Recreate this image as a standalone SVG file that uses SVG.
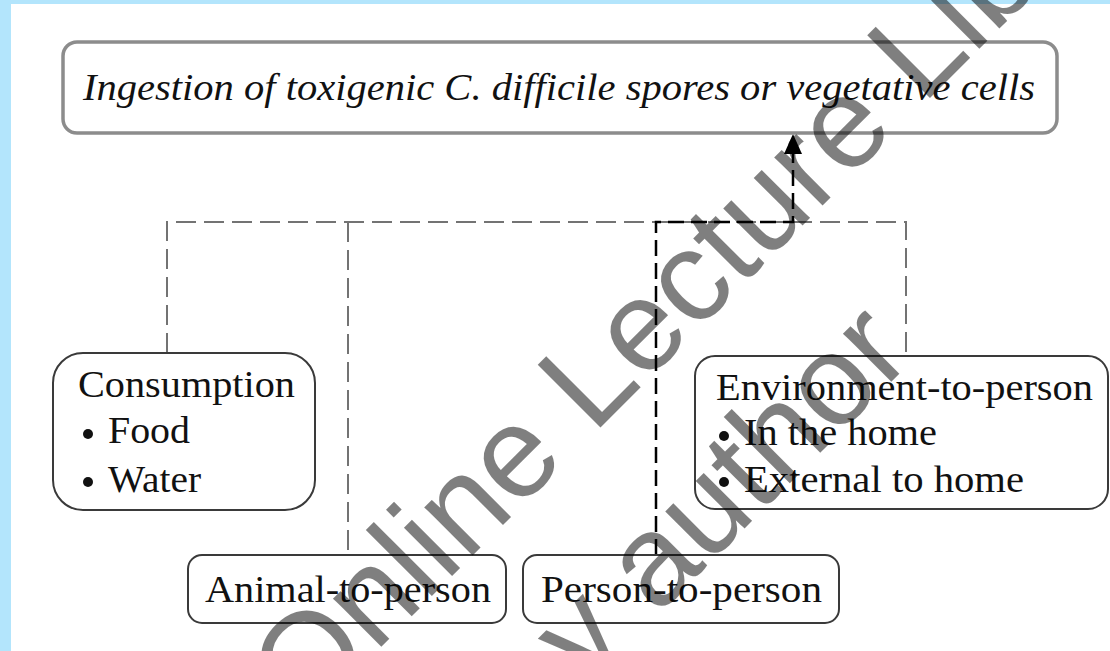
<svg xmlns="http://www.w3.org/2000/svg" width="1110" height="651" viewBox="0 0 1110 651">
  <style>
    .box { fill: #ffffff; stroke: #3a3a3a; stroke-width: 2; }
    .topbox { fill: #ffffff; stroke: #8c8c8c; stroke-width: 3.5; }
    .lbl { font-family: "Liberation Serif", "Times New Roman", serif; font-size: 38px; fill: #111; }
    .ital { font-family: "Liberation Serif", "Times New Roman", serif; font-style: italic; font-size: 37px; fill: #111; }
    .bullet { fill: #111; }
    .gdash { fill: none; stroke: #737373; stroke-width: 2; stroke-dasharray: 20 8; }
    .bdash { fill: none; stroke: #000; stroke-width: 2.5; stroke-dasharray: 16 7; }
    .wm { font-family: "Liberation Sans", Arial, sans-serif; font-size: 129px; fill: #000; fill-opacity: 0.5; }
  </style>
  <defs>
    <marker id="arrow" viewBox="0 0 10 10" refX="10" refY="5" markerWidth="8" markerHeight="8" markerUnits="userSpaceOnUse" orient="auto">
      <path d="M0,0 L10,5 L0,10 z" fill="#000"/>
    </marker>
  </defs>

  <rect x="0" y="0" width="1110" height="651" fill="#ffffff"/>
  <rect x="0" y="0" width="1110" height="4" fill="#b3e5fc"/>
  <rect x="0" y="0" width="11" height="651" fill="#b3e5fc"/>

  <g id="connectors">
    <path class="gdash" d="M167,353 V222 H906 V356"/>
    <path class="gdash" d="M348,222 V555"/>
    <path class="bdash" d="M656,555 V222 H793 V152"/>
    <path d="M793,134 L802,154 L784,154 z" fill="#000"/>
  </g>

  <g id="node-ingestion">
    <rect class="topbox" x="63" y="42" width="994" height="91" rx="14"/>
    <text class="ital" x="83" y="100" textLength="952" lengthAdjust="spacingAndGlyphs">Ingestion of toxigenic C. difficile spores or vegetative cells</text>
  </g>

  <g id="node-consumption">
    <rect class="box" x="53" y="353" width="262" height="157" rx="30"/>
    <text class="lbl" x="78" y="397" textLength="217" lengthAdjust="spacingAndGlyphs">Consumption</text>
    <circle class="bullet" cx="88" cy="434" r="5"/>
    <text class="lbl" x="108" y="443" textLength="82" lengthAdjust="spacingAndGlyphs">Food</text>
    <circle class="bullet" cx="88" cy="482" r="5"/>
    <text class="lbl" x="108" y="492" textLength="93" lengthAdjust="spacingAndGlyphs">Water</text>
  </g>

  <g id="node-animal">
    <rect class="box" x="188" y="555" width="318" height="68" rx="14"/>
    <text class="lbl" x="205" y="602" textLength="286" lengthAdjust="spacingAndGlyphs">Animal-to-person</text>
  </g>

  <g id="node-person">
    <rect class="box" x="523" y="555" width="316" height="68" rx="14"/>
    <text class="lbl" x="541" y="602" textLength="281" lengthAdjust="spacingAndGlyphs">Person-to-person</text>
  </g>

  <g id="node-environment">
    <rect class="box" x="695" y="356" width="413" height="153" rx="20"/>
    <text class="lbl" x="716" y="400" textLength="377" lengthAdjust="spacingAndGlyphs">Environment-to-person</text>
    <circle class="bullet" cx="724" cy="436" r="5"/>
    <text class="lbl" x="744" y="445" textLength="193" lengthAdjust="spacingAndGlyphs">In the home</text>
    <circle class="bullet" cx="724" cy="482" r="5"/>
    <text class="lbl" x="744" y="492" textLength="280" lengthAdjust="spacingAndGlyphs">External to home</text>
  </g>

  <g id="watermark">
    <text class="wm" x="304" y="724" transform="rotate(-45 304 724)">Online Lecture Library</text>
    <text class="wm" x="535" y="738" transform="rotate(-45 535 738)">by author</text>
  </g>
</svg>
